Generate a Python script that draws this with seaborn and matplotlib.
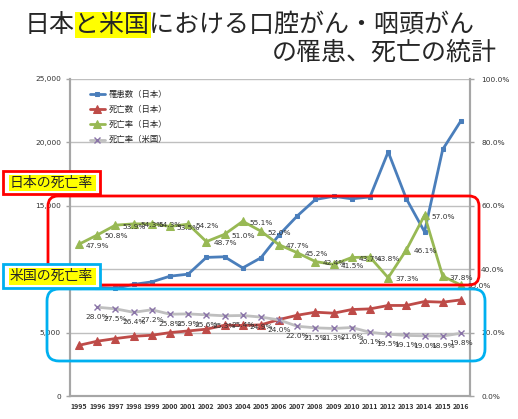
import numpy as np
import pandas as pd
import matplotlib
matplotlib.use("Agg")
import matplotlib.pyplot as plt
import matplotlib.ticker as mticker
from matplotlib.patches import FancyBboxPatch, Rectangle
import seaborn as sns

# ---- data ----
years = list(range(1995, 2017))
incidence_jp = [8580, 8560, 8500, 8800, 9000, 9450, 9610, 10930, 10980, 10100, 10900,
                12700, 14200, 15500, 15750, 15550, 15700, 19250, 15550, 12950, 19450, 21700]
deaths_jp = [4000, 4320, 4530, 4710, 4790, 5000, 5130, 5270, 5580, 5560, 5610,
             6030, 6370, 6610, 6530, 6820, 6870, 7140, 7140, 7450, 7400, 7580]
rate_jp = [47.9, 50.8, 53.9, 54.3, 54.3, 53.5, 54.2, 48.7, 51.0, 55.1, 52.0,
           47.7, 45.2, 42.4, 41.5, 43.7, 43.8, 37.3, 46.1, 57.0, 37.8, 35.0]
years_us = list(range(1996, 2017))
rate_us = [28.0, 27.5, 26.4, 27.2, 25.8, 25.9, 25.6, 25.3, 25.4, 24.9, 24.0,
           22.0, 21.5, 21.3, 21.6, 20.1, 19.5, 19.1, 19.0, 18.9, 19.8]

labels = ["罹患数（日本）", "死亡数（日本）", "死亡率（日本）", "死亡率（米国）"]

sns.set_style("white")
plt.rcParams["font.family"] = ["Noto Sans CJK JP", "DejaVu Sans"]

W, H = 518, 419
fig = plt.figure(figsize=(W / 100, H / 100), dpi=100)
ax = fig.add_axes([70 / W, 23 / H, 400 / W, 317 / H])
ax2 = ax.twinx()

blue, red, green, grey, purple = "#4A7EBB", "#BE4B48", "#98B954", "#BFBFBF", "#8A74A8"

sns.lineplot(x=years, y=incidence_jp, ax=ax, color=blue, lw=2, marker="s", ms=3.5,
             mec=blue, label=labels[0])
sns.lineplot(x=years, y=deaths_jp, ax=ax, color=red, lw=2, marker="^", ms=5.5,
             mec=red, label=labels[1])
sns.lineplot(x=years, y=rate_jp, ax=ax2, color=green, lw=2, marker="^", ms=5.5,
             mec=green, label=labels[2])
sns.lineplot(x=years_us, y=rate_us, ax=ax2, color=grey, lw=2, marker="x", ms=4.5,
             mec=purple, mew=1, label=labels[3])

# data labels
for yr, v in zip(years, rate_jp):
    ax2.annotate(f"{v:.1f}%", (yr, v), xytext=(5, -1), textcoords="offset points",
                 ha="left", va="center", fontsize=5.3, color="#333333",
                 family="DejaVu Sans")
for yr, v in zip(years_us, rate_us):
    ax2.annotate(f"{v:.1f}%", (yr, v), xytext=(0, -5), textcoords="offset points",
                 ha="center", va="top", fontsize=5.3, color="#333333",
                 family="DejaVu Sans")

# axes
ax.set_xlim(1994.5, 2016.5)
ax.set_ylim(0, 25000)
ax2.set_ylim(0, 100)
ax.set_xticks(years)
ax.set_xticklabels([str(y) for y in years], fontsize=5, fontweight="bold", color="#333333")
ax.set_xticks(np.arange(1994.5, 2017, 1), minor=True)
ax.tick_params(axis="x", which="major", length=0, pad=5)
ax.tick_params(axis="x", which="minor", length=3, color="#A6A6A6", width=1, direction="out")
ax.set_yticks(range(0, 25001, 5000))
ax.yaxis.set_major_formatter(mticker.StrMethodFormatter("{x:,.0f}"))
ax.tick_params(axis="y", length=3, color="#A6A6A6", width=1, labelsize=5.3,
               labelcolor="#333333", left=True)
ax2.set_yticks(range(0, 101, 20))
ax2.yaxis.set_major_formatter(mticker.StrMethodFormatter("{x:.1f}%"))
ax2.tick_params(axis="y", length=3, color="#A6A6A6", width=1, labelsize=5.3,
                labelcolor="#333333", right=True, pad=5)
for a in (ax, ax2):
    a.set_xlabel("")
    a.set_ylabel("")
    for s in a.spines.values():
        s.set_color("#A6A6A6")
        s.set_linewidth(1.5)
    a.spines["top"].set_visible(False)
    for t in a.get_yticklabels():
        t.set_family("DejaVu Sans")
ax.grid(axis="y", color="#BFBFBF", lw=1)
ax.grid(axis="x", visible=False)
ax2.grid(False)

# legend
h1, l1 = ax.get_legend_handles_labels()
h2, l2 = ax2.get_legend_handles_labels()
if ax.get_legend():
    ax.get_legend().remove()
ax2.legend(h1 + h2, l1 + l2, loc="upper left", bbox_to_anchor=(0.03, 0.99), frameon=False,
           fontsize=6, handlelength=1.8, labelspacing=0.75, handletextpad=0.5)


# ---- annotations in pixel coordinates ----
def box(x0, y0, x1, y1):
    return (x0 / 100, (H - y1) / 100), (x1 - x0) / 100, (y1 - y0) / 100


def rbox(x0, y0, x1, y1, color, rounding=0.1):
    xy, w, h = box(x0, y0, x1, y1)
    p = FancyBboxPatch(xy, w, h, boxstyle=f"round,pad=0,rounding_size={rounding}",
                       transform=fig.dpi_scale_trans, fill=False, ec=color, lw=2, zorder=10)
    fig.add_artist(p)


def rect(x0, y0, x1, y1, fc, ec="none", lw=0, z=11):
    xy, w, h = box(x0, y0, x1, y1)
    fig.add_artist(Rectangle(xy, w, h, transform=fig.dpi_scale_trans, fc=fc, ec=ec,
                             lw=lw, zorder=z))


rbox(48, 196, 479, 285, "#FF0000", 0.1)
rbox(47, 289, 485, 361, "#00B0F0", 0.12)

rect(3, 171, 100, 194, "white", "#FF0000", 2)
rect(9, 175, 96, 191, "#FFFF00", z=11.5)
fig.text(10 / W, 1 - 183 / H, "日本の死亡率", fontsize=10, ha="left", va="center", zorder=12)

rect(3, 264, 100, 288, "white", "#00B0F0", 2)
rect(9, 268, 96, 285, "#FFFF00", z=11.5)
fig.text(10 / W, 1 - 276 / H, "米国の死亡率", fontsize=10, ha="left", va="center", zorder=12)

# title
rect(75, 12, 151, 38, "#FFFF00", z=1)
fig.text(25 / W, 1 - 25 / H, "日本と米国における口腔がん・咽頭がん", fontsize=18,
         ha="left", va="center", zorder=3)
fig.text(497 / W, 1 - 53 / H, "の罹患、死亡の統計", fontsize=18,
         ha="right", va="center", zorder=3)

fig.savefig("out.png", dpi=100)
